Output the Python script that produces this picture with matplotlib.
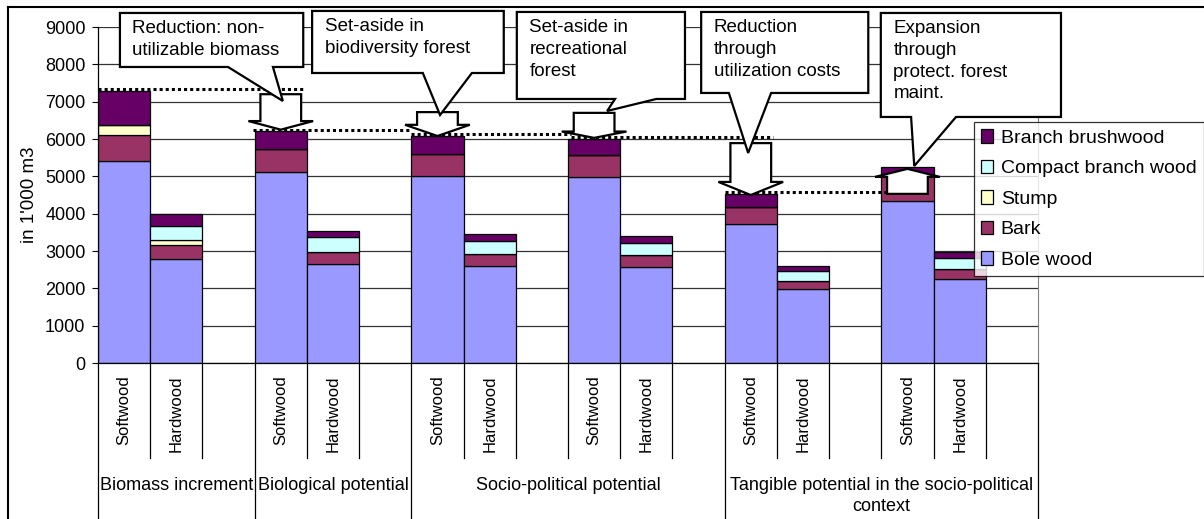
import matplotlib
matplotlib.use("Agg")
import matplotlib.pyplot as plt
from matplotlib.patches import Polygon, Patch
from matplotlib.lines import Line2D
import matplotlib.transforms as mtransforms

plt.rcParams['font.family'] = ['Liberation Sans', 'DejaVu Sans']

# bar data (thousand m3), one entry per drawn bar
bar_pos = [0, 1, 3, 4, 6, 7, 9, 10, 12, 13, 15, 16]
bole = [5400, 2780, 5120, 2640, 5010, 2600, 4975, 2565, 3715, 1980, 4345, 2245]
bark = [720, 375, 610, 320, 590, 320, 590, 320, 465, 205, 690, 270]
stump = [250, 140, 0, 0, 0, 0, 0, 0, 0, 0, 0, 0]
compact = [0, 385, 0, 420, 0, 340, 0, 340, 0, 285, 0, 295]
brush = [920, 320, 480, 160, 480, 190, 430, 190, 350, 115, 215, 160]

components = ["Bole wood", "Bark", "Stump", "Compact branch wood", "Branch brushwood"]
colors = ["#9999FF", "#993366", "#FFFFCC", "#CCFFFF", "#660066"]

cat_labels = ["Softwood", "Hardwood", ""] * 6
groups = ["Biomass increment", "Biological potential", "Socio-political potential",
          "Tangible potential in the socio-political\ncontext"]
group_start = [0, 3, 6, 12]
group_end = [3, 6, 12, 18]

# reference levels (dotted lines)
level_y = [7340, 6242, 6134, 6054, 4580]
level_x0 = [-0.5, 2.47, 5.5, 8.55, 11.5]
level_x1 = [3.45, 5.5, 8.55, 12.43, 14.6]

# block arrows
arrow_x = [3, 6, 9, 12, 15]
arrow_from = [7200, 6720, 6700, 5890, 4530]
arrow_to = [6250, 6080, 6030, 4500, 5200]
arrow_head = [230, 300, 170, 350, 215]

# callout boxes: text, left, right, top, bottom, pointer base left/right, tip
callout_text = ["Reduction: non-\nutilizable biomass",
                "Set-aside in\nbiodiversity forest",
                "Set-aside in\nrecreational\nforest",
                "Reduction\nthrough\nutilization costs",
                "Expansion\nthrough\nprotect. forest\nmaint."]
box_l = [-0.08, 3.60, 7.52, 11.05, 14.49]
box_r = [3.43, 7.27, 10.74, 14.25, 17.94]
box_t = [9376, 9430, 9403, 9403, 9376]
box_b = [7929, 7768, 7072, 7233, 6590]
ptr_l = [1.99, 5.72, 9.40, 11.58, 15.07]
ptr_r = [2.85, 6.66, 10.19, 12.39, 15.93]
tip_x = [3.04, 6.05, 9.25, 11.95, 15.13]
tip_y = [7018, 6643, 6751, 5626, 5277]

fig = plt.figure(figsize=(12.04, 5.19), dpi=100)
ax = fig.add_axes([98 / 1204, 1 - 363 / 519, 940 / 1204, 336 / 519])

layers = [bole, bark, stump, compact, brush]
bottom = [0] * len(bar_pos)
for vals, col in zip(layers, colors):
    ax.bar(bar_pos, vals, width=1.0, bottom=bottom, color=col,
           edgecolor="black", linewidth=0.9, zorder=2)
    bottom = [b + v for b, v in zip(bottom, vals)]

ax.set_xlim(-0.5, 17.5)
ax.set_ylim(0, 9000)
ax.set_yticks(range(0, 9001, 1000))
ax.set_xticks([])
ax.yaxis.grid(True, color="#333333", linewidth=0.9, zorder=0)
ax.set_axisbelow(True)
ax.tick_params(axis="y", length=4, width=0.8, pad=5, labelsize=13)
ax.spines["top"].set_visible(False)
ax.spines["right"].set_color("#808080")
ax.spines["left"].set_linewidth(0.9)
ax.spines["bottom"].set_linewidth(0.9)
ax.set_ylabel("in 1'000 m3", fontsize=13.5)
ax.yaxis.set_label_coords(-0.064, 0.5)

# category axis: separators and labels
trans = mtransforms.blended_transform_factory(ax.transData, ax.transAxes)
for i in range(19):
    x = i - 0.5
    ybot = -0.465 if x in [g - 0.5 for g in group_start + [18]] else -0.283
    ax.add_line(Line2D([x, x], [0, ybot], transform=trans, color="black",
                       linewidth=0.9, clip_on=False))
for i, lab in enumerate(cat_labels):
    if lab:
        ax.text(i, -0.036, lab, transform=trans, rotation=90, ha="center",
                va="top", fontsize=12)
for g, s, e in zip(groups, group_start, group_end):
    ax.text((s + e - 1) / 2, -0.34, g, transform=trans, ha="center", va="top",
            fontsize=13, linespacing=1.3)

# dotted reference lines
for y, x0, x1 in zip(level_y, level_x0, level_x1):
    ax.plot([x0, x1], [y, y], color="black", linestyle=(0, (1, 1)),
            linewidth=2.2, zorder=3, clip_on=False)

# block arrows
sw, hw = 0.39, 0.62
for x, y0, y1, hl in zip(arrow_x, arrow_from, arrow_to, arrow_head):
    sgn = 1 if y1 < y0 else -1
    yb = y1 + sgn * hl
    pts = [(x - sw, y0), (x + sw, y0), (x + sw, yb), (x + hw, yb), (x, y1),
           (x - hw, yb), (x - sw, yb)]
    ax.add_patch(Polygon(pts, closed=True, facecolor="white", edgecolor="black",
                         linewidth=1.6, zorder=4, clip_on=False))

# callout boxes
for i, txt in enumerate(callout_text):
    pts = [(box_l[i], box_t[i]), (box_r[i], box_t[i]), (box_r[i], box_b[i]),
           (ptr_r[i], box_b[i]), (tip_x[i], tip_y[i]), (ptr_l[i], box_b[i]),
           (box_l[i], box_b[i])]
    ax.add_patch(Polygon(pts, closed=True, facecolor="white", edgecolor="black",
                         linewidth=1.6, zorder=5, clip_on=False))
    ax.text(box_l[i] + 0.24, box_t[i] - 200, txt, ha="left", va="top",
            fontsize=13.5, linespacing=1.35, zorder=6, clip_on=False)

# legend
handles = [Patch(facecolor=c, edgecolor="black", linewidth=0.9, label=n)
           for n, c in zip(components, colors)][::-1]
leg = fig.legend(handles=handles, loc="upper left",
                 bbox_to_anchor=(974 / 1204, 1 - 122 / 519),
                 bbox_transform=fig.transFigure, fontsize=14, frameon=True,
                 fancybox=False, shadow=False, borderaxespad=0,
                 handlelength=0.6, handleheight=0.7, handletextpad=0.4,
                 labelspacing=0.66, borderpad=0.38)
leg.get_frame().set_edgecolor("black")
leg.get_frame().set_linewidth(0.9)
leg.set_zorder(7)

# outer chart frame
fig.add_artist(Line2D([8 / 1204, 8 / 1204], [0, 1 - 7 / 519],
                      transform=fig.transFigure, color="black", linewidth=1.5))
fig.add_artist(Line2D([8 / 1204, 1], [1 - 7 / 519, 1 - 7 / 519],
                      transform=fig.transFigure, color="black", linewidth=1.5))

fig.savefig("out.png", dpi=100)
